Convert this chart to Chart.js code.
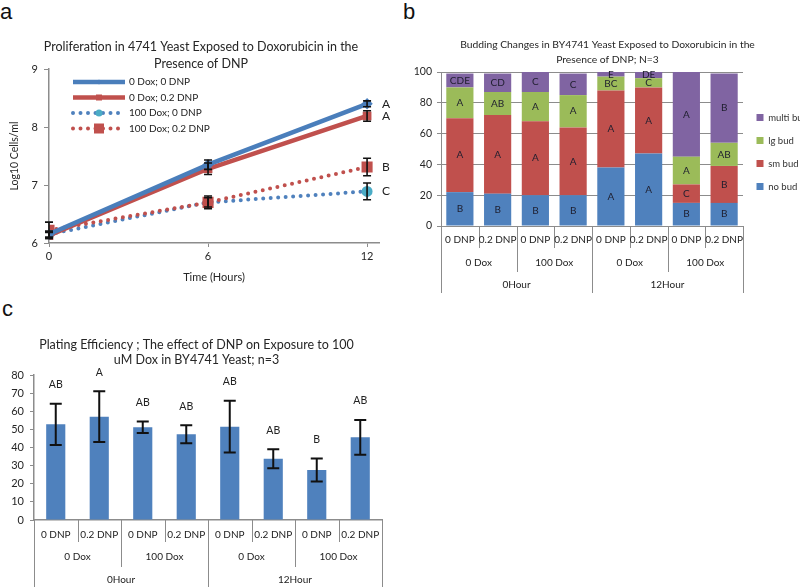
<!DOCTYPE html>
<html>
<head>
<meta charset="utf-8">
<script src="https://cdn.jsdelivr.net/npm/chart.js@4.4.1/dist/chart.umd.min.js"></script>
<style>
  body { margin: 0; width: 800px; height: 587px; overflow: hidden; background: #fff; position: relative; }
  .tag { position: absolute; font-family: "Liberation Sans", Arial, sans-serif; font-size: 22px; line-height: 22px; color: #111; }
  canvas { position: absolute; }
</style>
</head>
<body>
<div class="tag" style="left:0px;top:1px">a</div>
<div class="tag" style="left:403px;top:1px">b</div>
<div class="tag" style="left:2px;top:298px">c</div>
<canvas id="growth" width="400" height="300" style="left:0;top:0"></canvas>
<canvas id="budding" width="411" height="300" style="left:400px;top:0"></canvas>
<canvas id="plating" width="400" height="287" style="left:0;top:300px"></canvas>
<script>
// ---- panel a : growth curves (log10 cells/ml) ----
const hours = [0, 6, 12];
const growthNames = ['0 Dox; 0 DNP', '0 Dox; 0.2 DNP', '100 Dox; 0 DNP', '100 Dox; 0.2 DNP'];
const dox0dnp0 = [6.15, 7.35, 8.40];
const dox0dnp02 = [6.13, 7.28, 8.19];
const dox100dnp0 = [6.15, 6.70, 6.89];
const dox100dnp02 = [6.22, 6.70, 7.31];
const dox0dnp0Err = [0.05, 0.08, 0.05];
const dox0dnp02Err = [0.05, 0.10, 0.09];
const dox100dnp0Err = [0.05, 0.08, 0.145];
const dox100dnp02Err = [0.14, 0.11, 0.15];
const growthLetters = ['A', 'A', 'C', 'B'];

// ---- panel b : budding morphology (%) ----
const dnpLabels = ['0 DNP', '0.2 DNP', '0 DNP', '0.2 DNP', '0 DNP', '0.2 DNP', '0 DNP', '0.2 DNP'];
const doxLabels = ['0 Dox', '100 Dox', '0 Dox', '100 Dox'];
const hourLabels = ['0Hour', '12Hour'];
const noBud = [22, 21, 20, 20, 38, 47, 15, 15];
const smBud = [48, 51, 48, 44, 50, 43, 12, 24];
const lgBud = [20, 15, 19, 21, 9, 6, 18, 15];
const multiBud = [9, 12, 13, 14, 3, 4, 55, 45];
const noBudLetters = ['B', 'B', 'B', 'B', 'A', 'A', 'B', 'B'];
const smBudLetters = ['A', 'A', 'A', 'A', 'A', 'A', 'C', 'B'];
const lgBudLetters = ['A', 'AB', 'A', 'A', 'BC', 'C', 'A', 'AB'];
const multiBudLetters = ['CDE', 'CD', 'C', 'C', 'E', 'DE', 'A', 'B'];

// ---- panel c : plating efficiency ----
const plating = [52.8, 57, 51.2, 47.3, 51.5, 33.8, 27.6, 45.6];
const platingErr = [11.4, 14, 3.2, 5, 14.3, 5.2, 6.4, 9.6];
const platingLetters = ['AB', 'A', 'AB', 'AB', 'AB', 'AB', 'B', 'AB'];

const FONT = 'Lato, "Open Sans", sans-serif';
Chart.defaults.font.family = FONT;
Chart.defaults.color = '#262626';
const AXIS = '#8c8c8c';

// vertical error bars, values taken from dataset.err
const errorBars = {
  id: 'errorBars',
  afterDatasetsDraw(chart, args, opts) {
    const ctx = chart.ctx, ys = chart.scales.y;
    ctx.save();
    ctx.strokeStyle = '#111';
    ctx.lineWidth = opts.width;
    chart.data.datasets.forEach((ds, di) => {
      if (!ds.err) return;
      chart.getDatasetMeta(di).data.forEach((el, i) => {
        const v = typeof ds.data[i] === 'object' ? ds.data[i].y : ds.data[i];
        const top = ys.getPixelForValue(v + ds.err[i]);
        const bot = ys.getPixelForValue(v - ds.err[i]);
        ctx.beginPath();
        ctx.moveTo(el.x, top); ctx.lineTo(el.x, bot);
        ctx.moveTo(el.x - opts.cap, top); ctx.lineTo(el.x + opts.cap, top);
        ctx.moveTo(el.x - opts.cap, bot); ctx.lineTo(el.x + opts.cap, bot);
        ctx.stroke();
        if (opts.above && ds.letters) {
          ctx.fillStyle = '#222';
          ctx.font = opts.font;
          ctx.textAlign = 'center';
          ctx.textBaseline = 'middle';
          ctx.fillText(ds.letters[i], el.x, top - opts.above);
        }
      });
    });
    ctx.restore();
  }
};

// significance letters beside the last point of each line
const endLetters = {
  id: 'endLetters',
  afterDatasetsDraw(chart, args, opts) {
    const ctx = chart.ctx;
    ctx.save();
    ctx.font = opts.font;
    ctx.fillStyle = '#222';
    ctx.textBaseline = 'middle';
    chart.data.datasets.forEach((ds, di) => {
      const pts = chart.getDatasetMeta(di).data;
      const last = pts[pts.length - 1];
      ctx.fillText(opts.letters[di], last.x + opts.dx, last.y);
    });
    ctx.restore();
  }
};

// legend drawn inside the plot, with line samples
const lineLegend = {
  id: 'lineLegend',
  afterDraw(chart, args, opts) {
    const {ctx, chartArea} = chart;
    ctx.save();
    chart.data.datasets.forEach((ds, i) => {
      const y = chartArea.top + opts.top + i * opts.step;
      const x0 = chartArea.left + opts.left, x1 = x0 + opts.length;
      ctx.strokeStyle = ds.borderColor;
      ctx.lineWidth = ds.borderWidth;
      ctx.lineCap = ds.borderCapStyle || 'butt';
      ctx.setLineDash(ds.borderDash || []);
      ctx.beginPath(); ctx.moveTo(x0, y); ctx.lineTo(x1, y); ctx.stroke();
      ctx.setLineDash([]);
      const xm = (x0 + x1) / 2, r = ds.pointRadius;
      ctx.fillStyle = ds.pointBackgroundColor;
      ctx.beginPath();
      if (ds.pointStyle === 'circle') ctx.arc(xm, y, r, 0, Math.PI * 2);
      else if (ds.pointStyle === 'rectRot') { ctx.moveTo(xm, y - r); ctx.lineTo(xm + r, y); ctx.lineTo(xm, y + r); ctx.lineTo(xm - r, y); }
      else ctx.rect(xm - r, y - r, 2 * r, 2 * r);
      ctx.fill();
      ctx.fillStyle = '#222';
      ctx.font = opts.font;
      ctx.textBaseline = 'middle';
      ctx.fillText(ds.label, x1 + opts.gap, y);
    });
    ctx.restore();
  }
};

// letters in the middle of each stacked segment
const segmentLetters = {
  id: 'segmentLetters',
  afterDatasetsDraw(chart, args, opts) {
    const ctx = chart.ctx;
    ctx.save();
    ctx.font = opts.font;
    ctx.fillStyle = '#1e1e2e';
    ctx.textAlign = 'center';
    ctx.textBaseline = 'middle';
    chart.data.datasets.forEach((ds, di) => {
      chart.getDatasetMeta(di).data.forEach((bar, i) => {
        ctx.fillText(ds.letters[i], bar.x, (bar.y + bar.base) / 2);
      });
    });
    ctx.restore();
  }
};

// Excel-style multi level category axis under the plot
const groupAxis = {
  id: 'groupAxis',
  afterDraw(chart, args, opts) {
    const {ctx, chartArea} = chart;
    const xs = chart.scales.x;
    const n = opts.rows[0].labels.length;
    const centers = [];
    for (let i = 0; i < n; i++) centers.push(xs.getPixelForValue(i));
    const edges = [chartArea.left];
    for (let i = 1; i < n; i++) edges.push((centers[i - 1] + centers[i]) / 2);
    edges.push(chartArea.right);
    const y0 = chartArea.bottom;
    ctx.save();
    ctx.strokeStyle = AXIS;
    ctx.lineWidth = 1;
    edges.forEach((x, k) => {
      let depth = 0;
      opts.rows.forEach(r => { if (k % r.span === 0) depth = Math.max(depth, r.depth); });
      const px = Math.round(x) + 0.5;
      ctx.beginPath(); ctx.moveTo(px, y0); ctx.lineTo(px, y0 + depth); ctx.stroke();
    });
    ctx.fillStyle = '#222';
    ctx.font = opts.font;
    ctx.textAlign = 'center';
    ctx.textBaseline = 'middle';
    opts.rows.forEach(r => {
      r.labels.forEach((lab, j) => {
        const x = (edges[j * r.span] + edges[(j + 1) * r.span]) / 2;
        ctx.fillText(lab, x, y0 + r.textY);
      });
    });
    ctx.restore();
  }
};

const toPoints = arr => hours.map((h, i) => ({x: h, y: arr[i]}));

// ---------- a ----------
new Chart(document.getElementById('growth'), {
  type: 'line',
  data: {
    datasets: [
      {label: growthNames[0], data: toPoints(dox0dnp0), err: dox0dnp0Err, order: 0,
       borderColor: '#4a7ebb', borderWidth: 4.5, pointStyle: 'rectRot', pointRadius: 2.5,
       pointBackgroundColor: '#4a7ebb', pointBorderColor: '#4a7ebb'},
      {label: growthNames[1], data: toPoints(dox0dnp02), err: dox0dnp02Err, order: 1,
       borderColor: '#c0504d', borderWidth: 4.5, pointStyle: 'rect', pointRadius: 3,
       pointBackgroundColor: '#c0504d', pointBorderColor: '#c0504d'},
      {label: growthNames[2], data: toPoints(dox100dnp0), err: dox100dnp0Err, order: 3,
       borderColor: '#4f81bd', borderWidth: 4, borderDash: [0, 7.5], borderCapStyle: 'round',
       pointStyle: 'circle', pointRadius: 3.5, pointBackgroundColor: '#4bacc6', pointBorderColor: '#4bacc6'},
      {label: growthNames[3], data: toPoints(dox100dnp02), err: dox100dnp02Err, order: 2,
       borderColor: '#c0504d', borderWidth: 4, borderDash: [0, 7.5], borderCapStyle: 'round',
       pointStyle: 'rect', pointRadius: 5, pointBackgroundColor: '#c0504d', pointBorderColor: '#c0504d'}
    ]
  },
  options: {
    responsive: false,
    animation: false,
    layout: {padding: {left: 23, right: 21, top: 20, bottom: 10}},
    plugins: {
      legend: {display: false},
      tooltip: {enabled: false},
      title: {display: true, color: '#262626',
        text: ['Proliferation in 4741 Yeast Exposed to Doxorubicin in the', 'Presence of DNP'],
        font: {size: 12.5, weight: 'normal', lineHeight: '17px'}, padding: {top: 18, bottom: -3}},
      errorBars: {width: 1.6, cap: 4},
      endLetters: {letters: growthLetters, dx: 15, font: '12px ' + FONT},
      lineLegend: {left: 24, length: 52, top: 13, step: 15.5, gap: 4, font: '10px ' + FONT}
    },
    scales: {
      x: {type: 'linear', min: 0, max: 12.45,
        afterBuildTicks: s => { s.ticks = hours.map(v => ({value: v})); },
        afterFit: s => { s.height = 47; },
        ticks: {padding: 3, font: {size: 11}},
        grid: {drawOnChartArea: false, tickLength: 4, color: AXIS},
        border: {color: AXIS, width: 1.5},
        title: {display: true, text: 'Time (Hours)', font: {size: 11}, padding: {top: 0, bottom: 6}}},
      y: {min: 6, max: 9,
        afterFit: s => { s.width = 26; },
        ticks: {stepSize: 1, padding: 6, font: {size: 11}},
        grid: {drawOnChartArea: false, tickLength: 5, color: AXIS},
        border: {color: AXIS, width: 1.5},
        title: {display: true, text: 'Log10 Cells/ml', font: {size: 10.5}, padding: {top: -15, bottom: 0}}}
    }
  },
  plugins: [errorBars, endLetters, lineLegend]
});

// ---------- b ----------
new Chart(document.getElementById('budding'), {
  type: 'bar',
  data: {
    labels: dnpLabels,
    datasets: [
      {label: 'no bud', data: noBud, letters: noBudLetters, backgroundColor: '#4f81bd'},
      {label: 'sm bud', data: smBud, letters: smBudLetters, backgroundColor: '#c0504d'},
      {label: 'lg bud', data: lgBud, letters: lgBudLetters, backgroundColor: '#9bbb59'},
      {label: 'multi bud', data: multiBud, letters: multiBudLetters, backgroundColor: '#8064a2'}
    ]
  },
  options: {
    responsive: false,
    animation: false,
    barPercentage: 0.72,
    categoryPercentage: 1,
    layout: {padding: {left: 4, right: 0, top: 20, bottom: 0}},
    plugins: {
      tooltip: {enabled: false},
      title: {display: true, color: '#262626',
        text: ['Budding Changes in BY4741 Yeast Exposed to Doxorubicin in the', 'Presence of DNP; N=3'],
        font: {size: 10.3, weight: 'normal', lineHeight: '15px'}, padding: {top: 17.5, bottom: 4.5}},
      legend: {position: 'right', reverse: true, fullSize: false, maxWidth: 68,
        title: {display: true, text: ' ', font: {size: 5}, padding: 0},
        labels: {boxWidth: 7, boxHeight: 7, padding: 13.5, color: '#333', font: {size: 9.5}}},
      segmentLetters: {font: '10px ' + FONT},
      groupAxis: {font: '10px ' + FONT, rows: [
        {labels: dnpLabels, span: 1, textY: 14, depth: 22},
        {labels: doxLabels, span: 2, textY: 37, depth: 46},
        {labels: hourLabels, span: 4, textY: 59, depth: 67}
      ]}
    },
    scales: {
      x: {stacked: true,
        afterFit: s => { s.height = 74; },
        ticks: {display: false},
        grid: {display: false},
        border: {color: AXIS}},
      y: {stacked: true, min: 0, max: 100,
        afterFit: s => { s.width = 37; },
        ticks: {stepSize: 10, padding: 5, font: {size: 10.5}},
        grid: {color: AXIS, tickLength: 4},
        border: {color: AXIS}}
    }
  },
  plugins: [segmentLetters, groupAxis]
});

// ---------- c ----------
new Chart(document.getElementById('plating'), {
  type: 'bar',
  data: {
    labels: dnpLabels,
    datasets: [
      {label: 'Plating efficiency', data: plating, err: platingErr, letters: platingLetters, backgroundColor: '#4f81bd'}
    ]
  },
  options: {
    responsive: false,
    animation: false,
    barPercentage: 0.44,
    categoryPercentage: 1,
    layout: {padding: {left: 11, right: 18, top: 20, bottom: 0}},
    plugins: {
      legend: {display: false},
      tooltip: {enabled: false},
      title: {display: true, color: '#262626',
        text: ['Plating Efficiency ; The effect of DNP on Exposure to 100', 'uM Dox in BY4741 Yeast; n=3'],
        font: {size: 12.5, weight: 'normal', lineHeight: '15px'}, padding: {top: 17.5, bottom: 7.5}},
      errorBars: {width: 2, cap: 6, above: 19, font: '10.5px ' + FONT},
      groupAxis: {font: '10px ' + FONT, rows: [
        {labels: dnpLabels, span: 1, textY: 15, depth: 22},
        {labels: doxLabels, span: 2, textY: 37, depth: 47},
        {labels: hourLabels, span: 4, textY: 60, depth: 67}
      ]}
    },
    scales: {
      x: {afterFit: s => { s.height = 67; },
        ticks: {display: false},
        grid: {display: false},
        border: {color: AXIS, width: 1.5}},
      y: {min: 0, max: 80,
        afterFit: s => { s.width = 23; },
        ticks: {stepSize: 10, padding: 6, font: {size: 11}},
        grid: {drawOnChartArea: false, tickLength: 4, color: AXIS},
        border: {color: AXIS, width: 1.5}}
    }
  },
  plugins: [errorBars, groupAxis]
});
</script>
</body>
</html>
